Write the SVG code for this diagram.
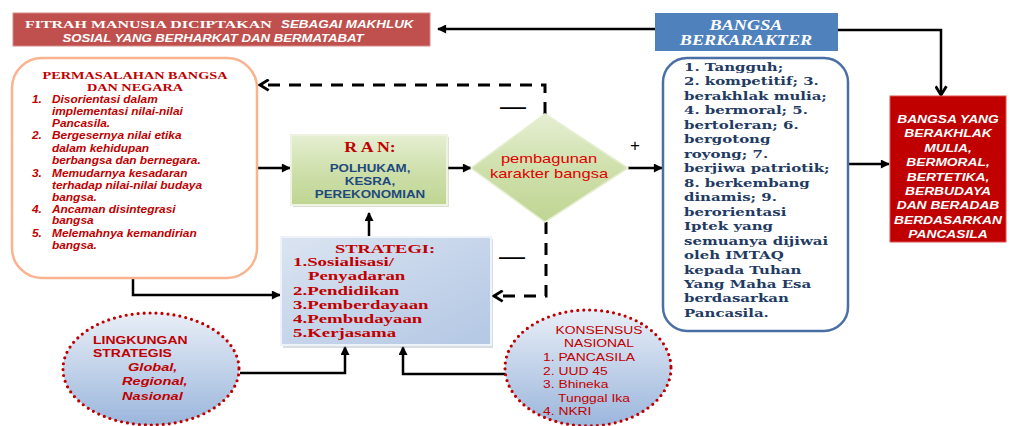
<svg xmlns="http://www.w3.org/2000/svg" width="1010" height="426" viewBox="0 0 1010 426">
<defs>
<style>
.serifb{font-family:"Liberation Serif","Times New Roman",serif;font-weight:bold}
.sans{font-family:"Liberation Sans",Arial,sans-serif}
.sansb{font-family:"Liberation Sans",Arial,sans-serif;font-weight:bold}
.sansbi{font-family:"Liberation Sans",Arial,sans-serif;font-weight:bold;font-style:italic}
.dvs{font-family:"DejaVu Serif",serif;font-weight:bold}
.red{fill:#c00000}
.white{fill:#ffffff}
.navy{fill:#1f3b63}
.conn{fill:none;stroke:#000;stroke-width:2.5}
.dash{fill:none;stroke:#000;stroke-width:3;stroke-dasharray:12 9}
.dots{stroke:#c00000;stroke-width:3.2;stroke-dasharray:0 6;stroke-linecap:round}
</style>
<marker id="tri" viewBox="0 0 10 10" refX="9" refY="5" markerWidth="10" markerHeight="9" markerUnits="userSpaceOnUse" orient="auto">
<path d="M0,0 L10,5 L0,10 z" fill="#000"/>
</marker>
<marker id="chev" viewBox="0 0 12 12" refX="10" refY="6" markerWidth="13" markerHeight="13" markerUnits="userSpaceOnUse" orient="auto">
<path d="M2,1 L10,6 L2,11" fill="none" stroke="#000" stroke-width="2.6"/>
</marker>
<linearGradient id="gGreen" x1="0" y1="0" x2="0" y2="1">
<stop offset="0" stop-color="#e6efd3"/>
<stop offset="0.5" stop-color="#cfe0ac"/>
<stop offset="1" stop-color="#bfd592"/>
</linearGradient>
<linearGradient id="gBlue" x1="0" y1="0" x2="1" y2="1">
<stop offset="0" stop-color="#dbe4f1"/>
<stop offset="0.6" stop-color="#c2d2e9"/>
<stop offset="1" stop-color="#b4c8e4"/>
</linearGradient>
<linearGradient id="gEll" x1="0" y1="0" x2="0" y2="1">
<stop offset="0" stop-color="#e8eef7"/>
<stop offset="1" stop-color="#9bb6dc"/>
</linearGradient>
</defs>
<rect width="1010" height="426" fill="#ffffff"/>

<g id="connectors">
<path class="conn" d="M655,29 H438" marker-end="url(#tri)"/>
<path class="conn" d="M838,30 H941 V95" marker-end="url(#chev)"/>
<path class="conn" d="M257,168 H290" marker-end="url(#tri)"/>
<path class="conn" d="M447,168 H471" marker-end="url(#tri)"/>
<path class="conn" d="M628,168 H662" marker-end="url(#tri)"/>
<path class="conn" d="M848,164 H889" marker-end="url(#tri)"/>
<path class="dash" d="M545,114 V85 H260" marker-end="url(#chev)"/>
<path class="dash" d="M546,222 V296 H494" marker-end="url(#chev)"/>
<path class="conn" d="M369,236 V213" marker-end="url(#tri)"/>
<path class="conn" d="M133,278 V295 H280" marker-end="url(#tri)"/>
<path class="conn" d="M240,373 H345 V347" marker-end="url(#tri)"/>
<path class="conn" d="M506,374 H403 V347" marker-end="url(#tri)"/>
<text class="sans" x="500" y="115" font-size="26" fill="#000">—</text>
<text class="sans" x="499" y="265" font-size="26" fill="#000">—</text>
<text class="sans" x="630" y="151" font-size="17" fill="#000">+</text>
</g>

<g id="fitrah">
<rect x="13" y="13" width="417" height="33" fill="#c0504d" stroke="#d58a88" stroke-width="1"/>
<g transform="translate(25 0) scale(1.45 1)"><text class="serifb white" x="0" y="28" font-size="11">FITRAH MANUSIA DICIPTAKAN</text></g>
<g transform="translate(281 0) scale(1.22 1)"><text class="sansbi white" x="0" y="28" font-size="11">SEBAGAI MAKHLUK</text></g>
<g transform="translate(213 0) scale(1.2 1)"><text class="sansbi white" x="0" y="42" font-size="11" text-anchor="middle">SOSIAL  YANG BERHARKAT DAN BERMATABAT</text></g>
</g>

<g id="bangsa-berkarakter">
<rect x="655" y="13" width="183" height="38" fill="#4f81bd"/>
<g transform="translate(746 0) scale(1.3 1)" class="serifb white" font-style="italic" font-size="14" text-anchor="middle">
<text x="0" y="30">BANGSA</text>
<text x="0" y="45">BERKARAKTER</text>
</g>
</g>

<g id="permasalahan">
<rect x="12" y="58" width="245" height="220" rx="30" fill="#ffffff" stroke="#f9b38f" stroke-width="2.5"/>
<g transform="translate(135 0) scale(1.36 1)" class="serifb red" font-size="10.5" text-anchor="middle">
<text x="0" y="79">PERMASALAHAN BANGSA</text>
<text x="0" y="91">DAN NEGARA</text>
</g>
<g transform="translate(32 0) scale(1.19 1)" class="sansbi red" font-size="10">
<text x="0" y="103">1.</text><text x="16.8" y="103">Disorientasi dalam</text>
<text x="16.8" y="115">implementasi nilai-nilai</text>
<text x="16.8" y="127">Pancasila.</text>
<text x="0" y="139">2.</text><text x="16.8" y="139">Bergesernya nilai etika</text>
<text x="16.8" y="152">dalam kehidupan</text>
<text x="16.8" y="164">berbangsa dan bernegara.</text>
<text x="0" y="177">3.</text><text x="16.8" y="177">Memudarnya kesadaran</text>
<text x="16.8" y="189">terhadap nilai-nilai budaya</text>
<text x="16.8" y="201">bangsa.</text>
<text x="0" y="213">4.</text><text x="16.8" y="213">Ancaman disintegrasi</text>
<text x="16.8" y="224">bangsa</text>
<text x="0" y="237">5.</text><text x="16.8" y="237">Melemahnya kemandirian</text>
<text x="16.8" y="249">bangsa.</text>
</g>
</g>

<g id="ran">
<rect x="293" y="137" width="156" height="70" fill="#9aa88a" opacity="0.35"/>
<rect x="291" y="135" width="156" height="70" fill="url(#gGreen)" stroke="#edf3e0" stroke-width="2"/>
<g transform="translate(370 0) scale(1.27 1)" text-anchor="middle">
<text class="serifb red" x="0" y="152" font-size="14">R A N:</text>
<text class="sansb" x="0" y="172" font-size="10.5" fill="#1f497d">POLHUKAM,</text>
<text class="sansb" x="0" y="185" font-size="10.5" fill="#1f497d">KESRA,</text>
<text class="sansb" x="0" y="198" font-size="10.5" fill="#1f497d">PEREKONOMIAN</text>
</g>
</g>

<g id="pembangunan">
<polygon points="545,114 628,168 545,222 471,168" fill="url(#gGreen)" stroke="#e4eed0" stroke-width="1.5"/>
<g transform="translate(549 0) scale(1.32 1)" class="sans" font-size="12.5" fill="#e00000" text-anchor="middle">
<text x="0" y="163">pembagunan</text>
<text x="0" y="178">karakter bangsa</text>
</g>
</g>

<g id="karakter-list">
<rect x="663" y="58" width="185" height="273" rx="24" fill="#ffffff" stroke="#4a6fa5" stroke-width="2.5"/>
<g transform="translate(684 0) scale(1.3 1)" class="dvs navy" font-size="11.5">
<text x="0" y="71">1. Tangguh;</text>
<text x="0" y="85.5">2. kompetitif;  3.</text>
<text x="0" y="100">berakhlak mulia;</text>
<text x="0" y="114.4">4. bermoral;   5.</text>
<text x="0" y="129">bertoleran;  6.</text>
<text x="0" y="143.4">bergotong</text>
<text x="0" y="158">royong;  7.</text>
<text x="0" y="172.3">berjiwa patriotik;</text>
<text x="0" y="186.8">8. berkembang</text>
<text x="0" y="201.2">dinamis;  9.</text>
<text x="0" y="215.7">berorientasi</text>
<text x="0" y="230.2">Iptek yang</text>
<text x="0" y="244.6">semuanya dijiwai</text>
<text x="0" y="259.1">oleh  IMTAQ</text>
<text x="0" y="273.6">kepada Tuhan</text>
<text x="0" y="288">Yang Maha Esa</text>
<text x="0" y="302.5">berdasarkan</text>
<text x="0" y="317">Pancasila.</text>
</g>
</g>

<g id="bangsa-berakhlak">
<rect x="890" y="96" width="116" height="146" fill="#c00000" stroke="#d9534f" stroke-width="1"/>
<g transform="translate(948 0) scale(1.2 1)" class="sansbi white" font-size="11.5" text-anchor="middle">
<text x="0" y="123">BANGSA YANG</text>
<text x="0" y="137.4">BERAKHLAK</text>
<text x="0" y="151.8">MULIA,</text>
<text x="0" y="166.2">BERMORAL,</text>
<text x="0" y="180.6">BERTETIKA,</text>
<text x="0" y="195">BERBUDAYA</text>
<text x="0" y="209.4">DAN BERADAB</text>
<text x="0" y="223.8">BERDASARKAN</text>
<text x="0" y="238.2">PANCASILA</text>
</g>
</g>

<g id="strategi">
<rect x="283" y="239" width="210" height="109" fill="#8f9bb0" opacity="0.35"/>
<rect x="281" y="237" width="210" height="108" fill="url(#gBlue)" stroke="#eef2f9" stroke-width="2"/>
<g transform="translate(385 0) scale(1.42 1)"><text class="serifb red" x="0" y="253" font-size="13" text-anchor="middle">STRATEGI:</text></g>
<g transform="translate(293 0) scale(1.45 1)" class="serifb red" font-size="13">
<text x="0" y="266">1.Sosialisasi/</text>
<text x="10.3" y="280">Penyadaran</text>
<text x="0" y="295">2.Pendidikan</text>
<text x="0" y="309">3.Pemberdayaan</text>
<text x="0" y="323">4.Pembudayaan</text>
<text x="0" y="337">5.Kerjasama</text>
</g>
</g>

<g id="lingkungan">
<ellipse cx="151" cy="369" rx="88" ry="56" fill="url(#gEll)"/>
<ellipse class="dots" cx="151" cy="369" rx="88" ry="56" fill="none"/>
<g transform="translate(93 0) scale(1.33 1)" class="sansb red" font-size="10.5">
<text x="0" y="344">LINGKUNGAN</text>
<text x="0" y="357">STRATEGIS</text>
</g>
<g transform="translate(128 0) scale(1.27 1)"><text class="sansbi red" x="0" y="371" font-size="11.5">Global,</text></g>
<g transform="translate(122 0) scale(1.27 1)" class="sansbi red" font-size="11.5">
<text x="0" y="385">Regional,</text>
<text x="0" y="400">Nasional</text>
</g>
</g>

<g id="konsensus">
<ellipse cx="588" cy="368" rx="83" ry="58" fill="url(#gEll)"/>
<ellipse class="dots" cx="588" cy="368" rx="83" ry="58" fill="none"/>
<g transform="translate(599 0) scale(1.32 1)" class="sans red" font-size="10.5" text-anchor="middle">
<text x="0" y="334">KONSENSUS</text>
<text x="0" y="347.5">NASIONAL</text>
</g>
<g transform="translate(543 0) scale(1.32 1)" class="sans red" font-size="10.5">
<text x="0" y="361">1. PANCASILA</text>
<text x="0" y="375">2. UUD 45</text>
<text x="0" y="388">3. Bhineka</text>
<text x="11.4" y="402">Tunggal Ika</text>
<text x="0" y="415">4. NKRI</text>
</g>
</g>
</svg>
